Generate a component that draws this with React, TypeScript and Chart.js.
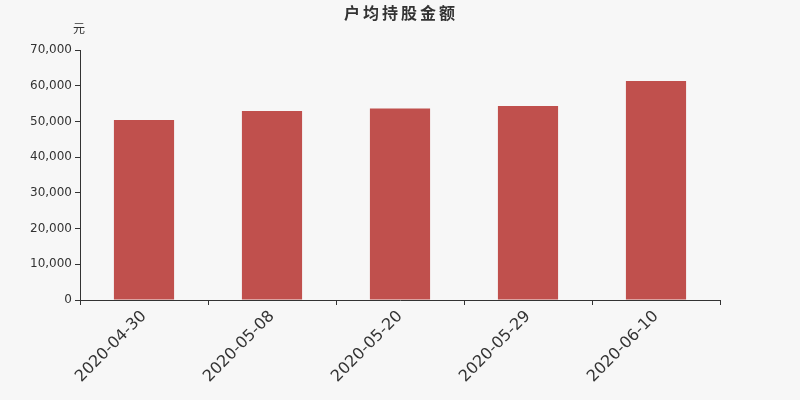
import { useEffect, useRef } from "react";
import { Chart, registerables } from "chart.js";

Chart.register(...registerables);

// data
const dates = ["2020-04-30", "2020-05-08", "2020-05-20", "2020-05-29", "2020-06-10"];
const avgHolding = [50400, 52900, 53600, 54300, 61300];

const chartTitle = "户均持股金额";
const unitLabel = "元";

const textColor = "#333333";
const barColor = "#c0504d";

// title and unit text drawn on the canvas
const headerPlugin = {
  id: "header",
  afterDraw(chart: any) {
    const ctx = chart.ctx;
    ctx.save();
    ctx.fillStyle = textColor;
    ctx.textBaseline = "middle";
    ctx.textAlign = "center";
    ctx.font = "bold 16px 'Noto Sans CJK SC', sans-serif";
    (ctx as any).letterSpacing = "3px";
    ctx.fillText(chartTitle, 401, 13);
    (ctx as any).letterSpacing = "0px";
    ctx.font = "12px 'Noto Sans CJK SC', sans-serif";
    ctx.fillText(unitLabel, 79, 28);
    ctx.restore();
  },
};

export default function App() {
  const canvasRef = useRef<HTMLCanvasElement | null>(null);

  useEffect(() => {
    document.body.style.margin = "0";
    if (!canvasRef.current) return;

    const chart = new Chart(canvasRef.current, {
      type: "bar",
      data: {
        labels: dates,
        datasets: [
          {
            label: chartTitle,
            data: avgHolding,
            backgroundColor: barColor,
            barPercentage: 0.94,
            categoryPercentage: 0.5,
          },
        ],
      },
      options: {
        responsive: false,
        animation: false,
        layout: { padding: { top: 50, right: 80, left: 0, bottom: 0 } },
        plugins: {
          legend: { display: false },
          title: { display: false },
          tooltip: { enabled: false },
        },
        scales: {
          x: {
            grid: {
              drawOnChartArea: false,
              drawTicks: true,
              tickLength: 5,
              color: textColor,
            },
            border: { display: true, color: textColor },
            ticks: {
              color: textColor,
              font: { family: "DejaVu Sans", size: 16 },
              minRotation: 45,
              maxRotation: 45,
              padding: 2,
            },
            afterFit(scale: any) {
              scale.height = 100;
            },
          },
          y: {
            min: 0,
            max: 70000,
            grid: {
              drawOnChartArea: false,
              drawTicks: true,
              tickLength: 5,
              color: textColor,
            },
            border: { display: true, color: textColor },
            ticks: {
              stepSize: 10000,
              color: textColor,
              font: { family: "DejaVu Sans", size: 12 },
              padding: 3,
              callback: (v: any) => Number(v).toLocaleString("en-US"),
            },
            afterFit(scale: any) {
              scale.width = 80;
            },
          },
        },
      },
      plugins: [headerPlugin],
    });

    return () => {
      chart.destroy();
    };
  }, []);

  return (
    <div style={{ width: 800, height: 400, background: "#f7f7f7" }}>
      <canvas ref={canvasRef} width={800} height={400}></canvas>
    </div>
  );
}
